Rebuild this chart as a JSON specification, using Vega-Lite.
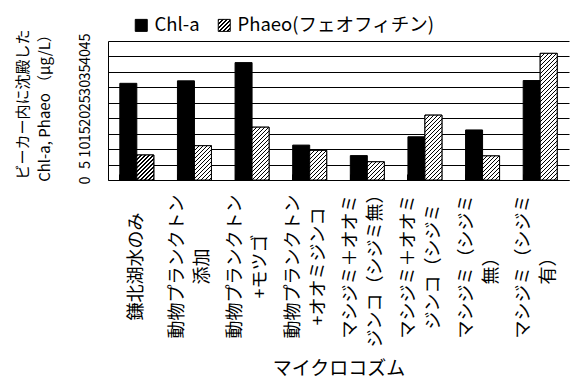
{
  "$schema": "https://vega.github.io/schema/vega-lite/v6.json",
  "width": 461,
  "height": 139,
  "autosize": {"type": "none"},
  "padding": {"left": 108, "top": 41, "right": 2, "bottom": 201},
  "background": "white",
  "params": [
    {
      "name": "hatchStops",
      "value": [
        {"offset":0,"color":"#000"},{"offset":0.009,"color":"#000"},{"offset":0.009,"color":"#fff"},{"offset":0.025,"color":"#fff"},
        {"offset":0.025,"color":"#000"},{"offset":0.034,"color":"#000"},{"offset":0.034,"color":"#fff"},{"offset":0.05,"color":"#fff"},
        {"offset":0.05,"color":"#000"},{"offset":0.059,"color":"#000"},{"offset":0.059,"color":"#fff"},{"offset":0.075,"color":"#fff"},
        {"offset":0.075,"color":"#000"},{"offset":0.084,"color":"#000"},{"offset":0.084,"color":"#fff"},{"offset":0.1,"color":"#fff"},
        {"offset":0.1,"color":"#000"},{"offset":0.109,"color":"#000"},{"offset":0.109,"color":"#fff"},{"offset":0.125,"color":"#fff"},
        {"offset":0.125,"color":"#000"},{"offset":0.134,"color":"#000"},{"offset":0.134,"color":"#fff"},{"offset":0.15,"color":"#fff"},
        {"offset":0.15,"color":"#000"},{"offset":0.159,"color":"#000"},{"offset":0.159,"color":"#fff"},{"offset":0.175,"color":"#fff"},
        {"offset":0.175,"color":"#000"},{"offset":0.184,"color":"#000"},{"offset":0.184,"color":"#fff"},{"offset":0.2,"color":"#fff"},
        {"offset":0.2,"color":"#000"},{"offset":0.209,"color":"#000"},{"offset":0.209,"color":"#fff"},{"offset":0.225,"color":"#fff"},
        {"offset":0.225,"color":"#000"},{"offset":0.234,"color":"#000"},{"offset":0.234,"color":"#fff"},{"offset":0.25,"color":"#fff"},
        {"offset":0.25,"color":"#000"},{"offset":0.259,"color":"#000"},{"offset":0.259,"color":"#fff"},{"offset":0.275,"color":"#fff"},
        {"offset":0.275,"color":"#000"},{"offset":0.284,"color":"#000"},{"offset":0.284,"color":"#fff"},{"offset":0.3,"color":"#fff"},
        {"offset":0.3,"color":"#000"},{"offset":0.309,"color":"#000"},{"offset":0.309,"color":"#fff"},{"offset":0.325,"color":"#fff"},
        {"offset":0.325,"color":"#000"},{"offset":0.334,"color":"#000"},{"offset":0.334,"color":"#fff"},{"offset":0.35,"color":"#fff"},
        {"offset":0.35,"color":"#000"},{"offset":0.359,"color":"#000"},{"offset":0.359,"color":"#fff"},{"offset":0.375,"color":"#fff"},
        {"offset":0.375,"color":"#000"},{"offset":0.384,"color":"#000"},{"offset":0.384,"color":"#fff"},{"offset":0.4,"color":"#fff"},
        {"offset":0.4,"color":"#000"},{"offset":0.409,"color":"#000"},{"offset":0.409,"color":"#fff"},{"offset":0.425,"color":"#fff"},
        {"offset":0.425,"color":"#000"},{"offset":0.434,"color":"#000"},{"offset":0.434,"color":"#fff"},{"offset":0.45,"color":"#fff"},
        {"offset":0.45,"color":"#000"},{"offset":0.459,"color":"#000"},{"offset":0.459,"color":"#fff"},{"offset":0.475,"color":"#fff"},
        {"offset":0.475,"color":"#000"},{"offset":0.484,"color":"#000"},{"offset":0.484,"color":"#fff"},{"offset":0.5,"color":"#fff"},
        {"offset":0.5,"color":"#000"},{"offset":0.509,"color":"#000"},{"offset":0.509,"color":"#fff"},{"offset":0.525,"color":"#fff"},
        {"offset":0.525,"color":"#000"},{"offset":0.534,"color":"#000"},{"offset":0.534,"color":"#fff"},{"offset":0.55,"color":"#fff"},
        {"offset":0.55,"color":"#000"},{"offset":0.559,"color":"#000"},{"offset":0.559,"color":"#fff"},{"offset":0.575,"color":"#fff"},
        {"offset":0.575,"color":"#000"},{"offset":0.584,"color":"#000"},{"offset":0.584,"color":"#fff"},{"offset":0.6,"color":"#fff"},
        {"offset":0.6,"color":"#000"},{"offset":0.609,"color":"#000"},{"offset":0.609,"color":"#fff"},{"offset":0.625,"color":"#fff"},
        {"offset":0.625,"color":"#000"},{"offset":0.634,"color":"#000"},{"offset":0.634,"color":"#fff"},{"offset":0.65,"color":"#fff"},
        {"offset":0.65,"color":"#000"},{"offset":0.659,"color":"#000"},{"offset":0.659,"color":"#fff"},{"offset":0.675,"color":"#fff"},
        {"offset":0.675,"color":"#000"},{"offset":0.684,"color":"#000"},{"offset":0.684,"color":"#fff"},{"offset":0.7,"color":"#fff"},
        {"offset":0.7,"color":"#000"},{"offset":0.709,"color":"#000"},{"offset":0.709,"color":"#fff"},{"offset":0.725,"color":"#fff"},
        {"offset":0.725,"color":"#000"},{"offset":0.734,"color":"#000"},{"offset":0.734,"color":"#fff"},{"offset":0.75,"color":"#fff"},
        {"offset":0.75,"color":"#000"},{"offset":0.759,"color":"#000"},{"offset":0.759,"color":"#fff"},{"offset":0.775,"color":"#fff"},
        {"offset":0.775,"color":"#000"},{"offset":0.784,"color":"#000"},{"offset":0.784,"color":"#fff"},{"offset":0.8,"color":"#fff"},
        {"offset":0.8,"color":"#000"},{"offset":0.809,"color":"#000"},{"offset":0.809,"color":"#fff"},{"offset":0.825,"color":"#fff"},
        {"offset":0.825,"color":"#000"},{"offset":0.834,"color":"#000"},{"offset":0.834,"color":"#fff"},{"offset":0.85,"color":"#fff"},
        {"offset":0.85,"color":"#000"},{"offset":0.859,"color":"#000"},{"offset":0.859,"color":"#fff"},{"offset":0.875,"color":"#fff"},
        {"offset":0.875,"color":"#000"},{"offset":0.884,"color":"#000"},{"offset":0.884,"color":"#fff"},{"offset":0.9,"color":"#fff"},
        {"offset":0.9,"color":"#000"},{"offset":0.909,"color":"#000"},{"offset":0.909,"color":"#fff"},{"offset":0.925,"color":"#fff"},
        {"offset":0.925,"color":"#000"},{"offset":0.934,"color":"#000"},{"offset":0.934,"color":"#fff"},{"offset":0.95,"color":"#fff"},
        {"offset":0.95,"color":"#000"},{"offset":0.959,"color":"#000"},{"offset":0.959,"color":"#fff"},{"offset":0.975,"color":"#fff"},
        {"offset":0.975,"color":"#000"},{"offset":0.984,"color":"#000"},{"offset":0.984,"color":"#fff"},{"offset":1,"color":"#fff"}
      ]
    }
  ],
  "data": {
    "values": [
      {"g": "鎌北湖水のみ", "s": "Chl-a", "v": 31.3},
      {"g": "鎌北湖水のみ", "s": "Phaeo(フェオフィチン)", "v": 8.1},
      {"g": "動物プランクトン\n添加", "s": "Chl-a", "v": 32.1},
      {"g": "動物プランクトン\n添加", "s": "Phaeo(フェオフィチン)", "v": 11.1},
      {"g": "動物プランクトン\n+モツゴ", "s": "Chl-a", "v": 38.0},
      {"g": "動物プランクトン\n+モツゴ", "s": "Phaeo(フェオフィチン)", "v": 17.1},
      {"g": "動物プランクトン\n+オオミジンコ", "s": "Chl-a", "v": 11.3},
      {"g": "動物プランクトン\n+オオミジンコ", "s": "Phaeo(フェオフィチン)", "v": 9.6},
      {"g": "マシジミ＋オオミ\nジンコ（シジミ無）", "s": "Chl-a", "v": 7.9},
      {"g": "マシジミ＋オオミ\nジンコ（シジミ無）", "s": "Phaeo(フェオフィチン)", "v": 5.9},
      {"g": "マシジミ＋オオミ\nジンコ（シジミ", "s": "Chl-a", "v": 14.0},
      {"g": "マシジミ＋オオミ\nジンコ（シジミ", "s": "Phaeo(フェオフィチン)", "v": 21.0},
      {"g": "マシジミ（シジミ\n無）", "s": "Chl-a", "v": 16.2},
      {"g": "マシジミ（シジミ\n無）", "s": "Phaeo(フェオフィチン)", "v": 7.8},
      {"g": "マシジミ（シジミ\n有）", "s": "Chl-a", "v": 32.2},
      {"g": "マシジミ（シジミ\n有）", "s": "Phaeo(フェオフィチン)", "v": 41.0}
    ]
  },
  "encoding": {
    "x": {
      "field": "g",
      "type": "nominal",
      "sort": null,
      "scale": {"paddingInner": 0.41, "paddingOuter": 0.205},
      "axis": {
        "title": "マイクロコズム",
        "titleFontSize": 19,
        "titleFontWeight": "normal",
        "titleBaseline": "top",
        "titleY": 179,
        "labelAngle": -90,
        "labelAlign": "center",
        "labelBaseline": "middle",
        "labelPadding": 92,
        "labelFontSize": 18,
        "labelLineHeight": 25,
        "labelLimit": 0,
        "labelOffset": {"condition": {"test": "indexof(datum.value, '\\n') >= 0", "value": -16}, "value": 0},
        "labelExpr": "split(datum.label, '\\n')",
        "bandPosition": 0,
        "ticks": true,
        "tickSize": -6,
        "tickColor": "black",
        "domainColor": "black",
        "grid": false
      }
    },
    "xOffset": {
      "field": "s",
      "type": "nominal",
      "scale": {"domain": ["Chl-a", "Phaeo(フェオフィチン)"]}
    },
    "y": {
      "field": "v",
      "type": "quantitative",
      "scale": {"domain": [0, 45], "nice": false},
      "axis": {
        "values": [0, 5, 10, 15, 20, 25, 30, 35, 40, 45],
        "title": ["ビーカー内に沈殿した", "Chl-a, Phaeo （μg/L）"],
        "titleFontSize": 15,
        "titleFontWeight": "normal",
        "titleAngle": -90,
        "titleAlign": "center",
        "titleBaseline": "top",
        "titleX": -93,
        "titleY": 63,
        "titleLineHeight": 22,
        "labelAngle": -90,
        "labelAlign": "center",
        "labelBaseline": "bottom",
        "labelPadding": 16,
        "labelFontSize": 14.5,
        "labelOverlap": false,
        "labelFlush": false,
        "ticks": false,
        "grid": true,
        "gridColor": "black",
        "gridOpacity": 1,
        "domainColor": "black"
      }
    }
  },
  "layer": [
    {
      "mark": {"type": "bar", "stroke": "black", "strokeWidth": 1},
      "encoding": {
        "fill": {
          "field": "s",
          "type": "nominal",
          "scale": {
            "domain": ["Chl-a", "Phaeo(フェオフィチン)"],
            "range": ["#000000", {"expr": "{gradient: 'linear', x1: 0, y1: 0, x2: 6.67, y2: 6.67, stops: hatchStops}"}]
          },
          "legend": {
            "orient": "none",
            "legendX": 24,
            "legendY": -25,
            "direction": "horizontal",
            "title": null,
            "symbolType": "square",
            "symbolSize": 144,
            "symbolStrokeColor": "black",
            "symbolStrokeWidth": 1,
            "symbolOpacity": 1,
            "labelFontSize": 18.5,
            "labelOffset": 4,
            "columnPadding": 15,
            "labelLimit": 0,
            "padding": 0
          }
        }
      }
    },
    {
      "transform": [{"filter": "datum.s !== 'Chl-a'"}],
      "mark": {
        "type": "bar",
        "stroke": "black",
        "strokeWidth": 1,
        "fill": {"expr": "{gradient: 'linear', x1: 0, y1: 0, x2: bandwidth('xOffset') * 160 / (pow(bandwidth('xOffset'), 2) + pow(scale('y', 0) - scale('y', datum.v), 2)), y2: (scale('y', 0) - scale('y', datum.v)) * 160 / (pow(bandwidth('xOffset'), 2) + pow(scale('y', 0) - scale('y', datum.v), 2)), stops: hatchStops}"}
      }
    }
  ],
  "config": {
    "view": {"stroke": null},
    "font": "Noto Sans CJK JP",
    "axis": {"labelColor": "black", "titleColor": "black", "labelFont": "Noto Sans CJK JP", "titleFont": "Noto Sans CJK JP"},
    "legend": {"labelColor": "black", "labelFont": "Noto Sans CJK JP"}
  }
}
